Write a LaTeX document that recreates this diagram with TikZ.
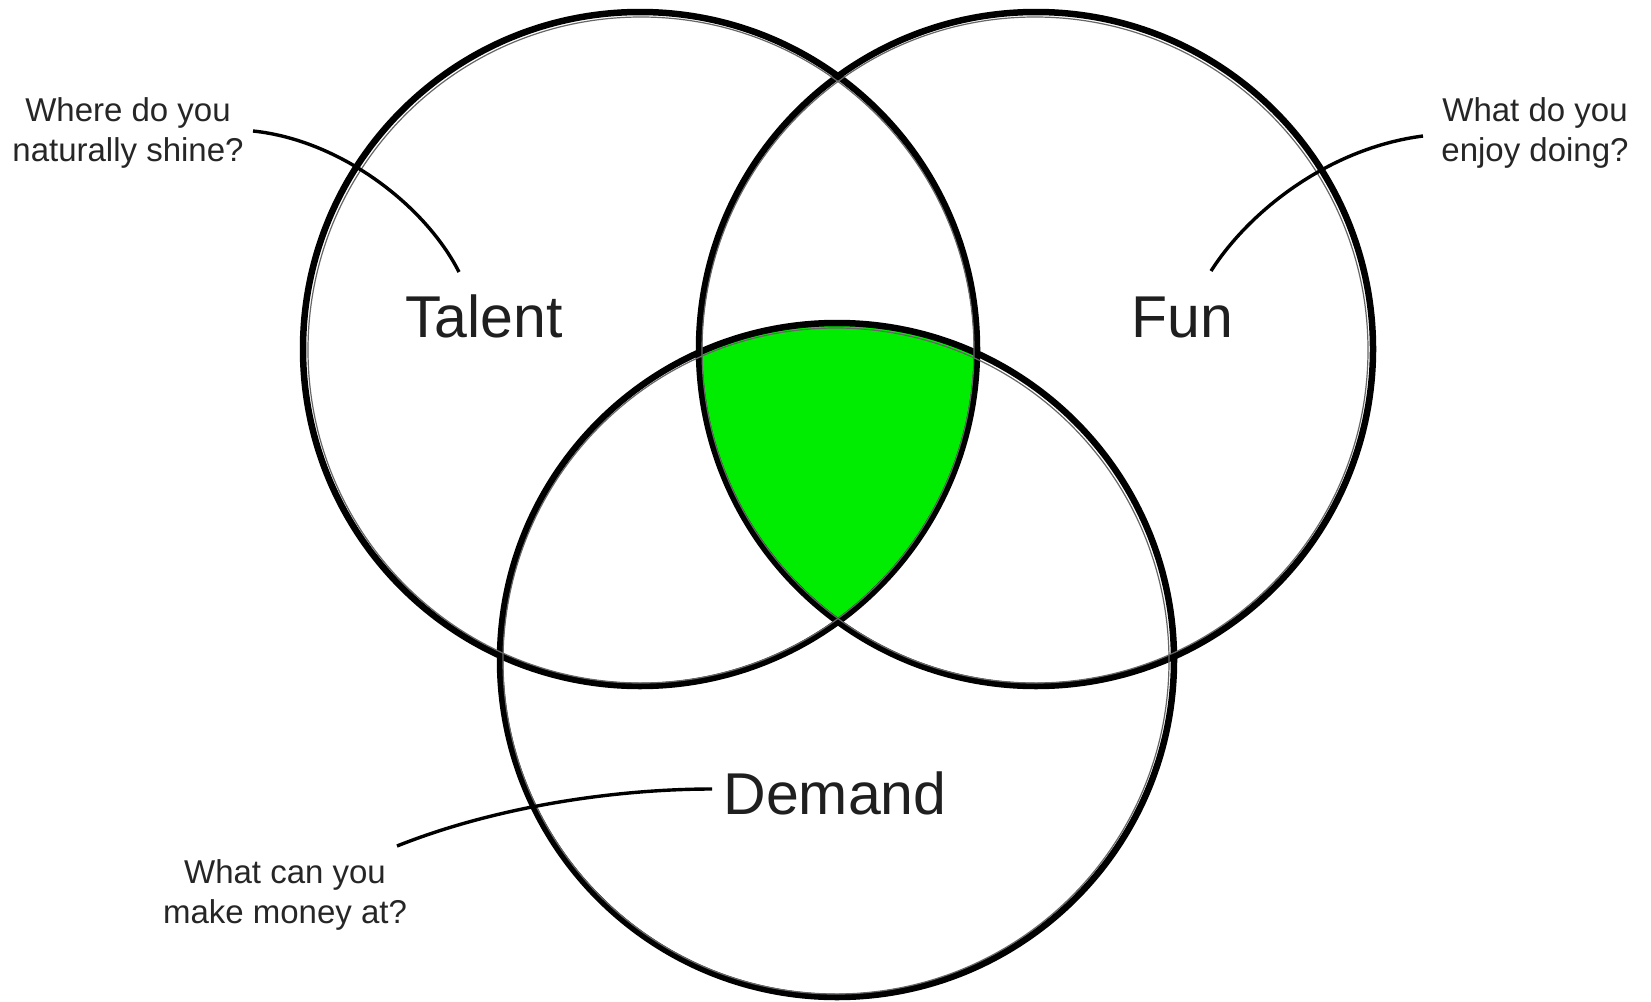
\documentclass[tikz,border=0pt]{standalone}
\usepackage{fontspec}
\setmainfont{Liberation Sans}
\begin{document}
\begin{tikzpicture}[x=1pt,y=-1pt,
  ring/.style={draw=black,line width=6.5pt},
  ringfine/.style={draw=black!60,line width=1.2pt},
  big/.style={font=\fontsize{59}{66}\selectfont,text=black!88,inner sep=0pt},
  small/.style={font=\fontsize{33}{40}\selectfont,text=black!85,align=center,inner sep=0pt},
  lead/.style={draw=black,line width=3.4pt}]
\useasboundingbox (0,0) rectangle (1651,1001);
\fill[white] (0,0) rectangle (1651,1001);
% green intersection
\begin{scope}
  \clip (640,349) circle[radius=337];
  \clip (1036,349) circle[radius=337];
  \fill[fill={rgb,255:red,0;green,236;blue,0}] (837,660) circle[radius=337];
\end{scope}
% circles
\draw[ring] (640,349) circle[radius=337];
\draw[ring] (1036,349) circle[radius=337];
\draw[ring] (837,660) circle[radius=337];
\draw[ringfine] (641,350) circle[radius=333];
\draw[ringfine] (1035,350) circle[radius=333];
\draw[ringfine] (836,661) circle[radius=333];
% labels
\node[big,anchor=base] (talent) at (484,337) {Talent};
\node[big,anchor=base] (fun) at (1182,337) {Fun};
\node[big,anchor=base] (demand) at (835,814) {Demand};
\node[small] (qtalent) at (128,133) {Where do you\\naturally shine?};
\node[small] (qfun) at (1535,133) {What do you\\enjoy doing?};
\node[small] (qdemand) at (285,895) {What can you\\make money at?};
% leaders
\coordinate (t1) at (253,131);
\coordinate (t2) at (459,272);
\coordinate (f1) at (1423,136);
\coordinate (f2) at (1211,271);
\coordinate (d1) at (712,789);
\coordinate (d2) at (397,846);
\draw[lead] (t1) .. controls (340,140) and (425,205) .. (t2);
\draw[lead] (f1) .. controls (1330,148) and (1250,210) .. (f2);
\draw[lead] (d1) .. controls (620,789) and (500,805) .. (d2);
\end{tikzpicture}
\end{document}
